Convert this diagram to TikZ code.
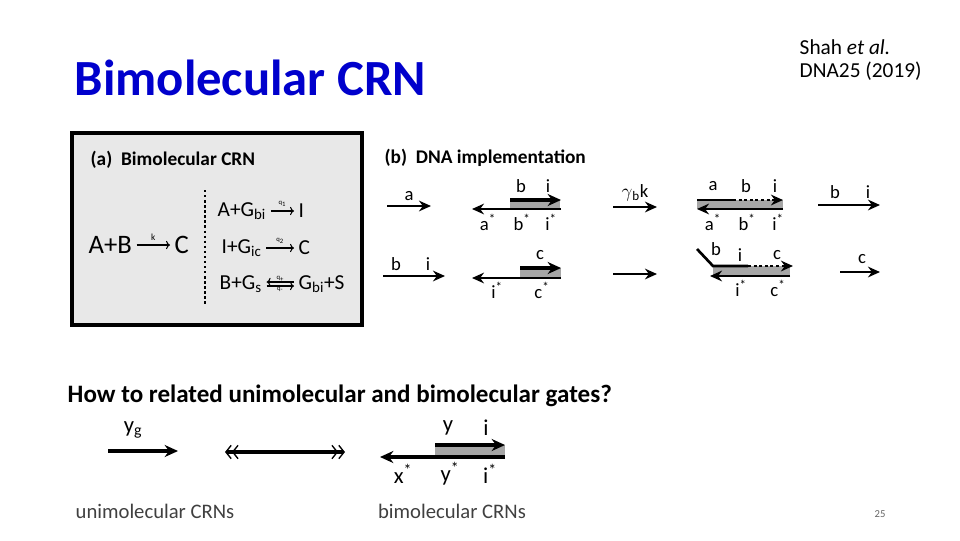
\documentclass[tikz,border=0pt]{standalone}
\usepackage{fontspec}
\setmainfont{Carlito}
\usetikzlibrary{arrows.meta}
\newcommand{\sbs}[1]{\textsubscript{#1}}
\newcommand{\st}{\textsuperscript{*}}
\begin{document}
\begin{tikzpicture}[x=0.75pt,y=-0.75pt,
  strand/.style={line width=2.6pt,-{Stealth[length=10pt,width=9pt]}},
  sstrand/.style={line width=2pt,-{Stealth[length=9pt,width=8pt]}},
  lab/.style={font=\fontsize{14}{14}\selectfont},
  gfill/.style={fill=gray!70,draw=none}]
\useasboundingbox (0,0) rectangle (960,540);
\node[anchor=west,text=blue!80!black,font=\fontsize{38}{38}\selectfont\bfseries] (title) at (70,78) {Bimolecular CRN};
\node[anchor=west,font=\fontsize{16}{17}\selectfont,align=left] (ref) at (795,60) {Shah \textit{et al.}\\DNA25 (2019)};
% panel a
\draw[fill=gray!18,line width=2.5pt] (72,133) rectangle (362,325);
\node[anchor=west,font=\fontsize{14.5}{16}\selectfont\bfseries] (pa) at (86,160) {(a)\ \ Bimolecular CRN};
\node[anchor=west,font=\fontsize{20}{20}\selectfont] (ab) at (84,245) {A+B};
\node[anchor=west,font=\fontsize{20}{20}\selectfont] (c) at (170,245) {C};
\draw[-{To[length=3pt]},thick] (ab.east) -- node[above,font=\scriptsize]{k} (c.west);
\draw[dotted,line width=1.8pt] (205,190) -- (205,306);
\begin{scope}[font=\fontsize{16}{16}\selectfont]
\node[anchor=west] (r1) at (213,211) {A+G\sbs{bi}};
\node[anchor=west] (p1) at (294,211) {I};
\draw[-{To[length=3pt]},thick] (r1.east) -- node[above,font=\tiny]{q\sbs{1}} (p1.west);
\node[anchor=west] (r2) at (217,248) {I+G\sbs{ic}};
\node[anchor=west] (p2) at (294,248) {C};
\draw[-{To[length=3pt]},thick] (r2.east) -- node[above,font=\tiny]{q\sbs{2}} (p2.west);
\node[anchor=west] (r3) at (215,284) {B+G\sbs{s}};
\node[anchor=west] (p3) at (294,284) {G\sbs{bi}+S};
\draw[-{To[length=3pt]},thick] ([yshift=-1.5pt]r3.east) -- node[above,font=\tiny]{q\sbs{+}} ([yshift=-1.5pt]p3.west);
\draw[{To[length=3pt]}-,thick] ([yshift=1.5pt]r3.east) -- node[below,font=\tiny]{q\sbs{-}} ([yshift=1.5pt]p3.west);
\end{scope}
% panel b
\node[anchor=west,font=\fontsize{14.5}{16}\selectfont\bfseries] (pb) at (380,158) {(b)\ \ DNA implementation};
\coordinate (a1) at (387,206); \coordinate (a2) at (431,206);
\draw[sstrand] (a1) -- node[above,lab]{a} (a2);
\fill[gfill] (510,200) rectangle (560,209);
\coordinate (g1l) at (472,209); \coordinate (g1r) at (561,209);
\draw[sstrand] (g1r) -- (g1l);
\coordinate (g1tl) at (510,200); \coordinate (g1tr) at (561,200);
\draw[strand] (g1tl) -- (g1tr);
\node[lab] at (521,186) {b}; \node[lab] at (548,186) {i};
\node[lab] at (488,222) {a\st}; \node[lab] at (522,222) {b\st}; \node[lab] at (551,222) {i\st};
\coordinate (x1) at (613,207); \coordinate (x2) at (657,207);
\draw[sstrand,line width=1.6pt] (x1) -- node[above,lab]{$\gamma$\sbs{b}k} (x2);
\fill[gfill] (697,200) rectangle (783,209);
\draw[line width=2.2pt] (697,200) -- (733,200);
\draw[line width=2.2pt,dotted,-{Stealth[length=9pt,width=8pt]}] (733,200) -- (783,200);
\draw[sstrand] (783,209) -- (697,209);
\node[lab] at (713,186) {a}; \node[lab] at (746,186) {b}; \node[lab] at (775,186) {i};
\node[lab] at (713,222) {a\st}; \node[lab] at (747,222) {b\st}; \node[lab] at (778,222) {i\st};
\coordinate (o1) at (818,205); \coordinate (o2) at (880,205);
\draw[sstrand] (o1) -- (o2);
\node[lab] at (835,192) {b}; \node[lab] at (868,192) {i};
% row 2
\coordinate (s1) at (383,276); \coordinate (s2) at (445,276);
\draw[sstrand] (s1) -- (s2);
\node[lab] at (396,264) {b}; \node[lab] at (428,264) {i};
\fill[gfill] (520,268) rectangle (561,278);
\draw[sstrand] (561,278) -- (472,278);
\draw[strand] (520,268) -- (561,268);
\node[lab] at (540,255) {c}; \node[lab] at (497,290) {i\st}; \node[lab] at (542,290) {c\st};
\coordinate (y1) at (613,274); \coordinate (y2) at (657,274);
\draw[sstrand,line width=1.6pt] (y1) -- (y2);
\fill[gfill] (713,266) rectangle (790,276);
\draw[line width=2pt] (697,249) -- (713,266) -- (748,266);
\draw[line width=2.2pt,dotted,-{Stealth[length=9pt,width=8pt]}] (748,266) -- (793,266);
\draw[sstrand] (790,276) -- (710,276);
\node[lab] at (716,249) {b}; \node[lab] at (740,255) {i}; \node[lab] at (777,255) {c};
\node[lab] at (741,288) {i\st}; \node[lab] at (778,288) {c\st};
\coordinate (c1) at (840,272); \coordinate (c2) at (880,272);
\draw[sstrand] (c1) -- (c2);
\node[lab] at (862,259) {c};
% question
\node[anchor=west,font=\fontsize{18.8}{19}\selectfont\bfseries] (q) at (63,396) {How to related unimolecular and bimolecular gates?};
\coordinate (u1) at (108,451); \coordinate (u2) at (178,451);
\draw[strand] (u1) -- (u2);
\node[font=\fontsize{17}{17}\selectfont] at (133,430) {y\sbs{g}};
\coordinate (d1) at (225,452); \coordinate (d2) at (345,452);
\draw[line width=2.4pt,{Straight Barb[length=4pt,width=10pt,line width=1pt]Straight Barb[length=4pt,width=10pt,line width=1pt]}-{Straight Barb[length=4pt,width=10pt,line width=1pt]Straight Barb[length=4pt,width=10pt,line width=1pt]}] (d1) -- (d2);
\fill[gfill] (435,445) rectangle (505,457);
\draw[strand] (505,457) -- (380,457);
\draw[strand] (435,445) -- (505,445);
\node[font=\fontsize{17}{17}\selectfont] at (448,428) {y};
\node[font=\fontsize{17}{17}\selectfont] at (486,428) {i};
\node[font=\fontsize{17}{17}\selectfont] at (403,474) {x\st};
\node[font=\fontsize{17}{17}\selectfont] at (450,474) {y\st};
\node[font=\fontsize{17}{17}\selectfont] at (490,474) {i\st};
\node[text=black!75,font=\fontsize{15.5}{16}\selectfont] (uc) at (155,511) {unimolecular CRNs};
\node[text=black!75,font=\fontsize{15.5}{16}\selectfont] (bc) at (452,511) {bimolecular CRNs};
\node[text=black!60,font=\fontsize{8}{8}\selectfont] (pg) at (880,514) {25};
\end{tikzpicture}
\end{document}
